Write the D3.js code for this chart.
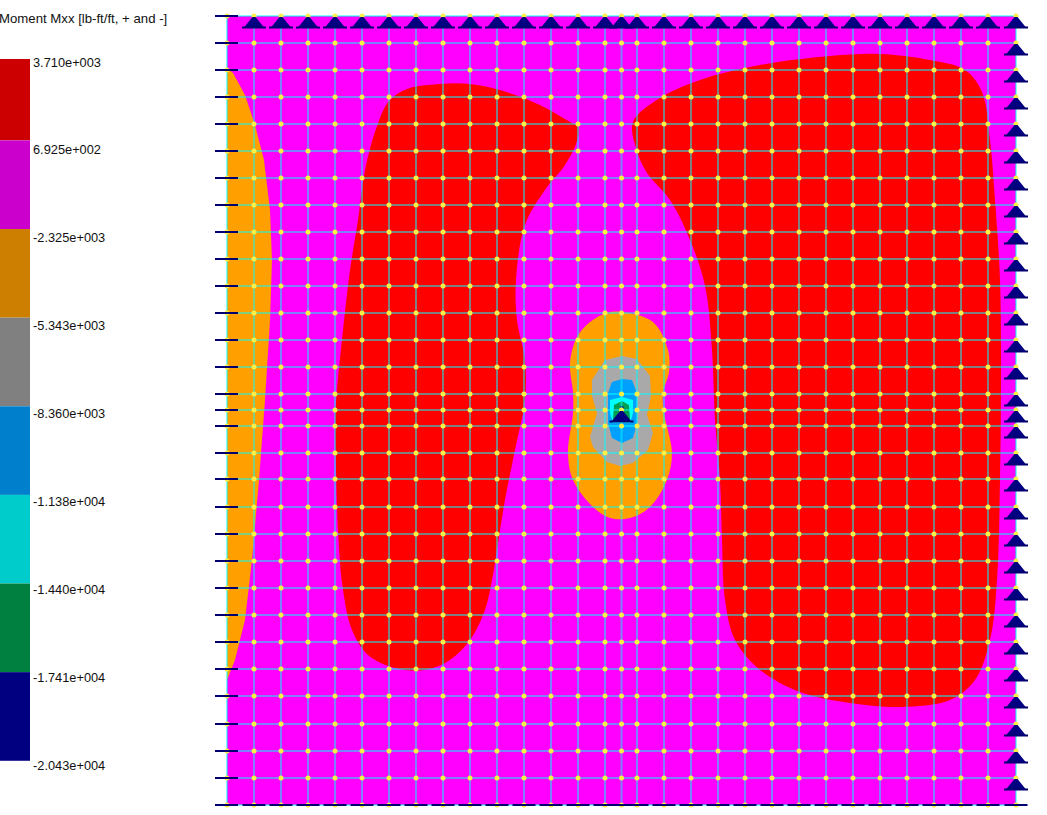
<!DOCTYPE html>
<html><head><meta charset="utf-8">
<style>html,body{margin:0;padding:0;background:#fff;overflow:hidden}svg{display:block}text{font-family:"Liberation Sans",Arial,sans-serif;font-size:12.8px;fill:#111}</style>
<script src="https://cdn.jsdelivr.net/npm/d3@7"></script>
</head><body><svg id="c" width="1047" height="815"></svg>
<script>
const chartTitle = "Moment Mxx [lb-ft/ft, + and -]";
const legendLabels = ["3.710e+003","6.925e+002","-2.325e+003","-5.343e+003","-8.360e+003","-1.138e+004","-1.440e+004","-1.741e+004","-2.043e+004"];
const legendColors = ["#cc0000","#cc00cc","#cc7f00","#808080","#0080cc","#00cccc","#008040","#000080"];
// mesh node coordinates (plate units)
const xNodes = [0,27,54,81,108,135,162,189,216,243,270,297,324,351,378,394.5,410,437,464,491,518,545,572,599,626,653,680,707,734,761,789];
const yNodes = [0,27,54,81,108,135,162,189,216,243,270,297,324,351,378,394,410,437,463,491,518,545,572,599,626,653,680,708,735,762,789];
// contour bands (plate units), absolute moment levels
const leftOrange = [[0,52],[6,57],[18,79],[28,109],[37,144],[43,194],[45,244],[43,304],[38,384],[32,464],[25,544],[18,604],[8,644],[0,664]];
const redLeft = [[213,68],[180,73],[162,85],[150,110],[138,154],[131,204],[123,254],[116,314],[110,374],[108,404],[109,454],[111,514],[116,574],[125,614],[141,639],[168,652],[198,654],[223,644],[243,624],[258,594],[265,564],[270,534],[278,484],[288,434],[298,384],[298,344],[290,304],[289,264],[298,209],[318,174],[338,149],[350,125],[351,110],[345,107],[313,89],[273,74],[243,68]];
const redRight = [[406,106],[433,82],[473,64],[533,49],[603,40],[653,38],[703,44],[738,54],[755,76],[763,124],[768,184],[773,264],[774,364],[773,464],[770,564],[763,624],[748,664],[723,684],[673,691],[623,687],[573,676],[533,654],[508,624],[498,584],[495,524],[493,464],[488,404],[485,334],[478,270],[463,224],[443,184],[420,157],[410,135]];
const orangeCentre = [[395,296],[426,306],[441,334],[442,356],[436,377],[437,397],[445,437],[440,464],[423,491],[403,502],[383,502],[366,491],[346,464],[341,437],[346,397],[346,377],[343,347],[350,321],[363,306],[380,297]];
const grayCentre = [[395,340],[410,343],[423,360],[424,380],[420,399],[426,417],[421,434],[406,447],[393,450],[380,446],[366,431],[363,421],[370,397],[365,380],[365,364],[378,344]];
const blueCentre = [[395,363],[405,364],[410,377],[410,407],[406,422],[395,427],[385,422],[381,407],[381,377],[385,366]];
const cyanCentre = [[383,384],[395,381],[406,384],[406,397],[403,407],[386,407],[383,397]];
const greenCentre = [[387,389],[395,385],[402,389],[403,404],[386,404]];
const navyCentre = [[393,390],[396,390],[397,393],[394,394]];

const svg = d3.select("#c");
const x = d3.scaleLinear().domain([0,789]).range([227,1016]);
const y = d3.scaleLinear().domain([0,789]).range([16,805]);
const smooth = d3.line().x(d=>x(d[0])).y(d=>y(d[1])).curve(d3.curveCatmullRomClosed.alpha(0.5));
const straight = d3.line().x(d=>x(d[0])).y(d=>y(d[1])).curve(d3.curveLinearClosed);

// legend
const bandY = d3.scaleLinear().domain([1,9]).range([140.4,849.4]);
const labelY = d3.scaleLinear().domain([0,8]).range([62,765]);
const leg = svg.append("g");
leg.append("text").attr("x",-1).attr("y",23).style("font-size","13.2px").text(chartTitle);
leg.selectAll("rect").data(legendColors).join("rect")
  .attr("x",0).attr("width",30)
  .attr("y",(d,i)=>i===0?59:bandY(i))
  .attr("height",(d,i)=>i===0?bandY(1)-59:bandY(i+1)-bandY(i))
  .attr("fill",d=>d);
leg.selectAll("text.l").data(legendLabels).join("text").attr("class","l")
  .attr("x",33).attr("y",(d,i)=>labelY(i)+4.5).text(d=>d);

// plate and contours
svg.append("rect").attr("x",x(0)).attr("y",y(0)).attr("width",x(789)-x(0)).attr("height",y(789)-y(0)).attr("fill","#ff00ff");
svg.append("clipPath").attr("id","plate").append("rect").attr("x",x(0)).attr("y",y(0)).attr("width",x(789)-x(0)).attr("height",y(789)-y(0));
const cg = svg.append("g").attr("clip-path","url(#plate)");
[[leftOrange,"#ff9f00",straight],[redLeft,"#ff0000",smooth],[redRight,"#ff0000",smooth],
 [orangeCentre,"#ff9f00",smooth],[grayCentre,"#a9a9a9",straight],[blueCentre,"#00a0ff",straight],
 [cyanCentre,"#00ffff",straight],[greenCentre,"#00a050",straight],[navyCentre,"#000080",straight]]
 .forEach(([pts,col,gen])=>cg.append("path").attr("d",gen(pts)).attr("fill",col));

// mesh
const mesh = svg.append("g").attr("stroke","#00ffff").attr("stroke-opacity",0.5).attr("stroke-width",2);
mesh.selectAll("line.v").data(xNodes).join("line").attr("class","v")
  .attr("x1",d=>x(d)).attr("x2",d=>x(d)).attr("y1",y(0)).attr("y2",y(789));
mesh.selectAll("line.h").data(yNodes).join("line").attr("class","h")
  .attr("y1",d=>y(d)).attr("y2",d=>y(d)).attr("x1",x(0)).attr("x2",x(789));

// nodes
const nodes = xNodes.flatMap(a=>yNodes.map(b=>[a,b]));
svg.append("g").selectAll("circle").data(nodes).join("circle")
  .attr("cx",d=>x(d[0])).attr("cy",d=>y(d[1])).attr("r",2.5).attr("fill","#ffee44");

// supports
const navy = "#000070";
const sup = svg.append("g");
function pin(px,py){
  sup.append("path").attr("d",`M${px-1.5},${py+1}L${px+1.5},${py+1}L${px+10},${py+11.5}L${px-10},${py+11.5}Z`).attr("fill","#000080");
  sup.append("line").attr("x1",px-12).attr("x2",px+12).attr("y1",py+11.5).attr("y2",py+11.5).attr("stroke",navy).attr("stroke-width",2);
}
xNodes.slice(1).forEach(d=>pin(x(d),y(0)));
yNodes.slice(1,-1).forEach(d=>pin(x(789),y(d)));
pin(x(394.5),y(394));
sup.selectAll("line.lt").data(yNodes).join("line").attr("class","lt")
  .attr("x1",x(0)-12).attr("x2",x(0)+11).attr("y1",d=>y(d)).attr("y2",d=>y(d))
  .attr("stroke",navy).attr("stroke-width",2);
sup.selectAll("line.bt").data(xNodes.slice(1)).join("line").attr("class","bt")
  .attr("x1",d=>x(d)-11.5).attr("x2",d=>x(d)+11.5).attr("y1",y(789)).attr("y2",y(789))
  .attr("stroke",navy).attr("stroke-width",2);
</script></body></html>
